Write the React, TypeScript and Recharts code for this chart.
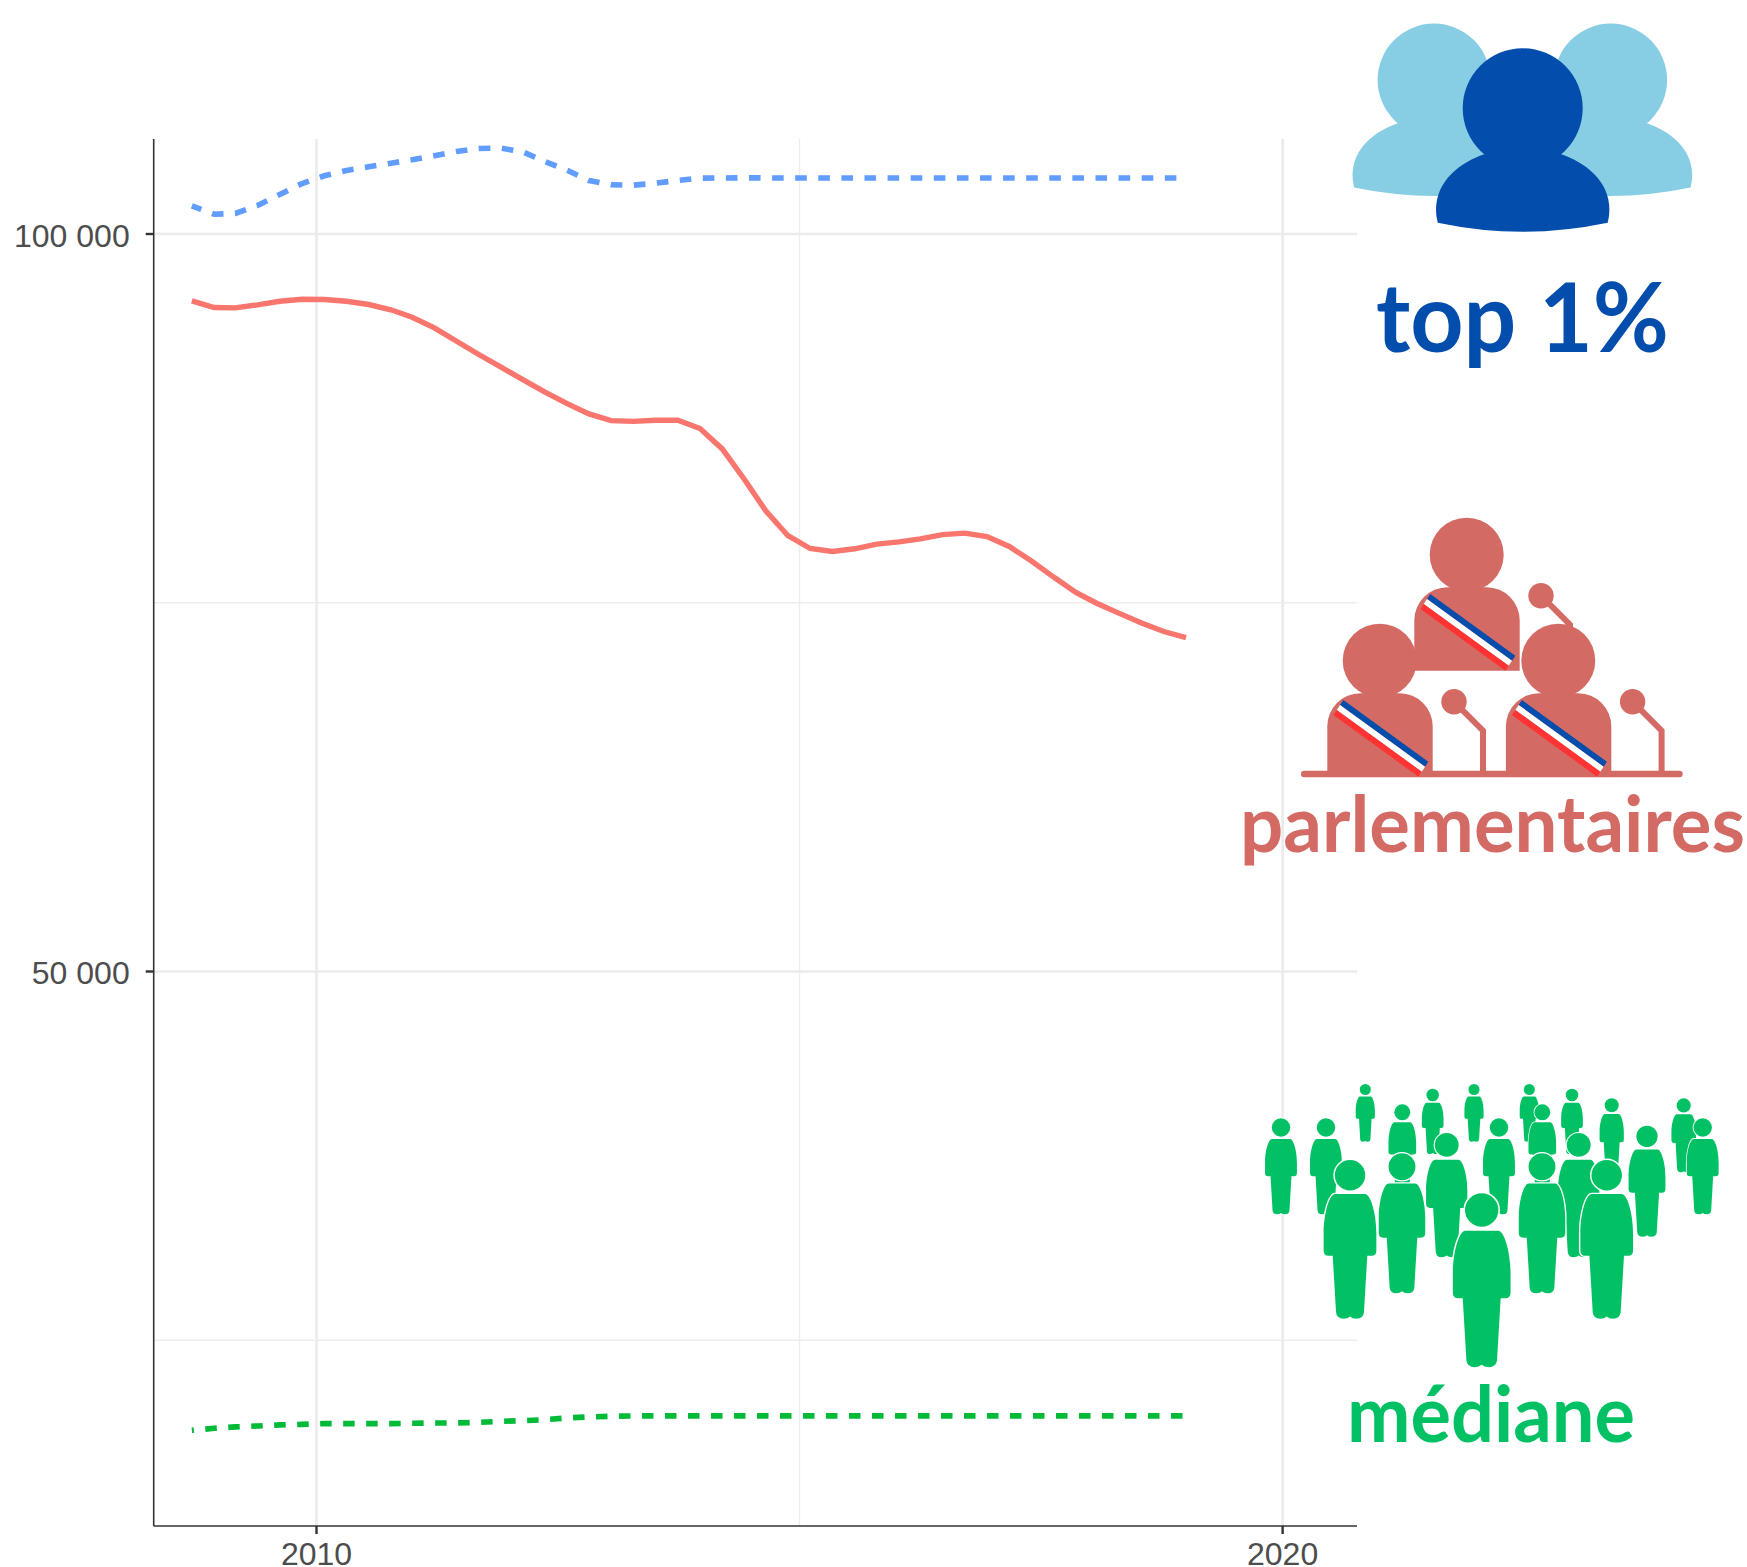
import { LineChart, Line, XAxis, YAxis, CartesianGrid } from 'recharts';

// sampling dates
const years = [
  2008.71, 2008.94, 2009.16, 2009.39, 2009.62, 2009.85, 2010.08, 2010.31, 2010.54, 2010.77,
  2010.99, 2011.22, 2011.45, 2011.68, 2011.91, 2012.14, 2012.37, 2012.6, 2012.82, 2013.05,
  2013.28, 2013.51, 2013.74, 2013.97, 2014.2, 2014.43, 2014.65, 2014.88, 2015.11, 2015.34,
  2015.57, 2015.8, 2016.03, 2016.25, 2016.48, 2016.71, 2016.94, 2017.17, 2017.4, 2017.63,
  2017.86, 2018.08, 2018.31, 2018.54, 2018.77, 2019.0,
];

const top1 = [
  101910, 101340, 101390, 101930, 102680, 103425, 103950, 104305, 104555, 104800,
  105030, 105300, 105595, 105800, 105820, 105550, 104900, 104305, 103630, 103340,
  103310, 103445, 103630, 103785, 103800, 103810, 103800, 103800, 103800, 103800,
  103800, 103800, 103800, 103800, 103800, 103800, 103800, 103800, 103800, 103800,
  103800, 103800, 103800, 103800, 103800, 103800,
];

const parlementaires = [
  95470, 95015, 94995, 95200, 95440, 95580, 95560, 95440, 95220, 94860,
  94360, 93640, 92730, 91830, 90970, 90110, 89270, 88480, 87800, 87350,
  87300, 87370, 87380, 86810, 85430, 83360, 81230, 79545, 78680, 78480,
  78660, 78980, 79125, 79335, 79620, 79720, 79490, 78820, 77830, 76740,
  75700, 74950, 74280, 73625, 73050, 72640,
];

const mediane = [
  18895, 19030, 19125, 19190, 19260, 19300, 19350, 19350, 19350, 19350,
  19370, 19395, 19395, 19435, 19505, 19550, 19620, 19735, 19800, 19845,
  19870, 19870, 19870, 19870, 19870, 19870, 19870, 19870, 19870, 19870,
  19870, 19870, 19870, 19870, 19870, 19870, 19870, 19870, 19870, 19870,
  19870, 19870, 19870, 19870, 19870, 19870,
];

const xTickLabels = [2010, 2020];
const yTickLabels = [50000, 100000];
const xMinor = [2015];
const yMinor = [25000, 75000];

const chartData = years.map((year, i) => ({
  year,
  top1: top1[i],
  parlementaires: parlementaires[i],
  mediane: mediane[i],
}));

const formatThousands = (v: number) => `${Math.floor(v / 1000)} ${String(v % 1000).padStart(3, '0')}`;

const BLUE = '#034DAD';
const SKY = '#87CEE4';
const ROSE = '#D46A64';
const GREEN = '#02C164';

// crowd icon: [center x, top y, height]
const crowd = [
  [1365.3, 1084, 57.7], [1432.7, 1088.7, 65.3], [1474, 1084, 57.7], [1529.3, 1084, 57.7],
  [1572, 1088.7, 65.3], [1611.7, 1098.3, 73], [1683.7, 1098.3, 74], [1402.3, 1104.3, 83.3],
  [1542.3, 1104.3, 83.3], [1281, 1118.3, 96], [1326, 1118.3, 96], [1499, 1118.3, 96],
  [1702.7, 1118.3, 96], [1647, 1125.7, 111], [1446.7, 1133, 124.3], [1578.7, 1133, 124.3],
  [1402, 1153.3, 140], [1542, 1153.3, 140], [1350, 1160, 158.7], [1606.7, 1160, 158.7],
  [1481.7, 1193.3, 174],
];

function Bust({ cx, cy, s, fill }: { cx: number; cy: number; s: number; fill: string }) {
  return (
    <g transform={`translate(${cx} ${cy}) scale(${s})`} fill={fill}>
      <circle r={60} />
      <path d="M-38.4 46C-62 54-86.7 72-86.7 101.7Q-86.7 108-85 114.4Q-42 123.4 0 123.4Q42 123.4 85 114.4Q86.7 108 86.7 101.7C86.7 72 62 54 38.4 46Z" />
    </g>
  );
}

function Deputy({ dx, dy }: { dx: number; dy: number }) {
  return (
    <g transform={`translate(${dx} ${dy})`}>
      <circle cx={1379.7} cy={660.7} r={37} fill={ROSE} />
      <path d="M1327.3 776.7V726.3A33 33 0 0 1 1360.3 693.3H1399.7A33 33 0 0 1 1432.7 726.3V776.7Z" fill={ROSE} />
      <polygon points="1343.3,700 1428.3,761.7 1425,766.7 1340,705" fill="#034DAD" />
      <polygon points="1340,705 1425,766.7 1421.7,771.7 1336.7,710" fill="#ffffff" />
      <polygon points="1336.7,710 1421.7,771.7 1418.4,776.7 1333.4,715" fill="#FF3333" />
    </g>
  );
}

function Mic({ dx, dy }: { dx: number; dy: number }) {
  return (
    <g transform={`translate(${dx} ${dy})`}>
      <circle cx={1454} cy={701.7} r={12.7} fill={ROSE} />
      <path d="M1454 701.7L1483 730.7V772" fill="none" stroke={ROSE} strokeWidth={6} />
    </g>
  );
}

function Icons() {
  return (
    <svg width={1747} height={1567} style={{ position: 'absolute', left: 0, top: 0 }}>
      {/* top 1% */}
      <Bust cx={1434} cy={80} s={0.94} fill={SKY} />
      <Bust cx={1610.7} cy={80} s={0.94} fill={SKY} />
      <Bust cx={1522.7} cy={108.3} s={1} fill={BLUE} />
      <text x={1376} y={351.7} fontFamily="Lato" fontWeight={700} fontSize={96} fill={BLUE} textLength={293} lengthAdjust="spacingAndGlyphs">top 1%</text>

      {/* parlementaires */}
      <Mic dx={87} dy={-106} />
      <Deputy dx={87} dy={-106} />
      <rect x={1301} y={770.7} width={381.7} height={6.6} rx={3.3} fill={ROSE} />
      <Mic dx={0} dy={0} />
      <Mic dx={178.6} dy={0} />
      <Deputy dx={0} dy={0} />
      <Deputy dx={178.6} dy={0} />
      <text x={1240} y={851.7} fontFamily="Lato" fontWeight={700} fontSize={79} fill={ROSE} textLength={505} lengthAdjust="spacingAndGlyphs">parlementaires</text>

      {/* médiane */}
      {crowd.map(([cx, top, h], i) => (
        <g key={i} transform={`translate(${cx} ${top}) scale(${h / 100})`} fill={GREEN} stroke="#ffffff" strokeWidth={1.8} style={{ paintOrder: 'stroke' }}>
          <circle cy={9.6} r={9.6} />
          <path d="M-9.5 21.5H9.5C13 21.5 16.6 34 16.6 46V57Q16.6 60.3 13.5 60.3H10.9L8.8 96Q8.4 100 4 100Q1.5 100 0 98.6Q-1.5 100 -4 100Q-8.4 100 -8.8 96L-10.9 60.3H-13.5Q-16.6 60.3 -16.6 57V46C-16.6 34 -13 21.5 -9.5 21.5Z" />
        </g>
      ))}
      <text x={1347} y={1441.7} fontFamily="Lato" fontWeight={700} fontSize={79} fill={GREEN} textLength={288} lengthAdjust="spacingAndGlyphs">médiane</text>
    </svg>
  );
}

export default function App() {
  const tickStyle = { fontFamily: 'Liberation Sans', fontSize: 32, fill: '#4d4d4d' };
  const tickMark = { stroke: '#333333', strokeWidth: 2.4 };
  return (
    <div style={{ position: 'absolute', left: 0, top: 0, width: 1747, height: 1567, background: '#fff' }}>
      <LineChart width={1747} height={1567} data={chartData} margin={{ top: 139, right: 390, bottom: 0, left: 0 }}>
        <CartesianGrid stroke="#ededed" strokeWidth={1.3} horizontalValues={yMinor} verticalValues={xMinor} />
        <CartesianGrid stroke="#ebebeb" strokeWidth={2.6} horizontalValues={yTickLabels} verticalValues={xTickLabels} />
        <XAxis
          dataKey="year"
          type="number"
          domain={[2008.315, 2020.77]}
          ticks={xTickLabels}
          allowDataOverflow
          height={41}
          tickSize={8}
          tickMargin={8}
          tick={tickStyle}
          tickLine={tickMark}
          stroke="#333333"
          strokeWidth={1.6}
        />
        <YAxis
          type="number"
          domain={[12407, 106441]}
          ticks={yTickLabels}
          allowDataOverflow
          width={153.7}
          tickSize={8}
          tickMargin={16}
          tick={{ ...tickStyle, dy: 1.5 }}
          tickLine={tickMark}
          tickFormatter={formatThousands}
          stroke="#333333"
          strokeWidth={1.6}
        />
        <Line dataKey="top1" stroke="#619CFF" strokeWidth={5.6} strokeDasharray="11.6 11.5" strokeDashoffset={1.5} dot={false} isAnimationActive={false} />
        <Line dataKey="parlementaires" stroke="#F8766D" strokeWidth={5.4} dot={false} isAnimationActive={false} />
        <Line dataKey="mediane" stroke="#00BA38" strokeWidth={5.6} strokeDasharray="11.5 11.5" strokeDashoffset={9.5} dot={false} isAnimationActive={false} />
      </LineChart>
      <Icons />
    </div>
  );
}
